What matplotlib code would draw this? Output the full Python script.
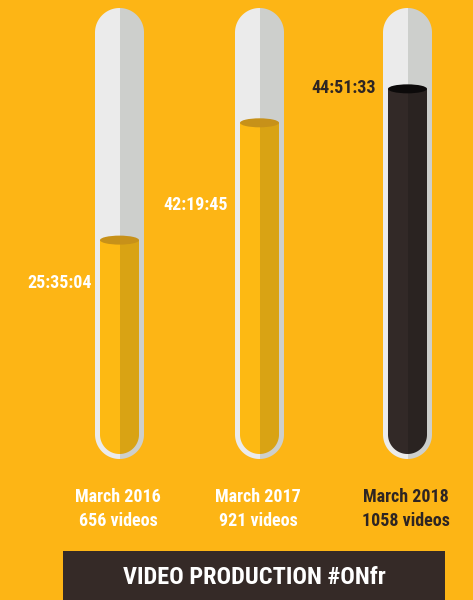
import numpy as np
import matplotlib
matplotlib.use("Agg")
import matplotlib.pyplot as plt
from matplotlib.patches import Polygon, Rectangle, Ellipse

# ---- data ----
periods = ["March 2016", "March 2017", "March 2018"]
videos = [656, 921, 1058]
durations = ["25:35:04", "42:19:45", "44:51:33"]
fill_level = [0.485, 0.751, 0.828]   # share of tube filled
title = "VIDEO PRODUCTION #ONfr"

# ---- style ----
BG = "#FDB515"
GLASS_L = "#EBEBEB"
GLASS_R = "#CDCFCC"
LIQ_L = ["#FDB913", "#FDB913", "#322927"]
LIQ_R = ["#D9A314", "#D9A314", "#2A2321"]
LIQ_TOP = ["#C79119", "#C79119", "#0C0A0A"]
TXT = ["white", "white", "#2E2523"]
DARK = "#352A27"
FP = dict(family=["Roboto Condensed", "DejaVu Sans"], weight="bold", stretch="condensed")

fig = plt.figure(figsize=(4.73, 6.0), dpi=100, facecolor=BG)
ax = fig.add_axes([0, 0, 1, 1])
ax.set_xlim(0, 473)
ax.set_ylim(600, 0)
ax.set_aspect("equal")
ax.axis("off")
ax.set_facecolor(BG)

centers = [119.5, 259.5, 407.5]
r_out = 24.5
border = 5
top, bottom = 8, 459
inner_top, inner_bottom = top + border, bottom - border
r_in = r_out - border


def capsule(cx, y0, y1, r):
    t1 = np.linspace(np.pi, 2 * np.pi, 60)
    t2 = np.linspace(0, np.pi, 60)
    xs = np.concatenate([cx + r * np.cos(t1), cx + r * np.cos(t2)])
    ys = np.concatenate([y0 + r + r * np.sin(t1), y1 - r + r * np.sin(t2)])
    p = Polygon(np.column_stack([xs, ys]), closed=True, transform=ax.transData,
                facecolor="none", edgecolor="none")
    return p


label_dy = [43, 82, -1]
label_gap = [3, 7, 7]
for i, cx in enumerate(centers):
    # glass
    outer = capsule(cx, top, bottom, r_out)
    ax.add_patch(outer)
    for x0, col in ((cx - r_out - 1, GLASS_L), (cx, GLASS_R)):
        rect = Rectangle((x0, top - 1), r_out + 1, bottom - top + 2,
                         facecolor=col, edgecolor="none", zorder=2)
        ax.add_patch(rect)
        rect.set_clip_path(outer)
    # liquid
    inner = capsule(cx, inner_top, inner_bottom, r_in)
    ax.add_patch(inner)
    y_fill = inner_bottom - fill_level[i] * (inner_bottom - inner_top)
    for x0, col in ((cx - r_in - 1, LIQ_L[i]), (cx, LIQ_R[i])):
        rect = Rectangle((x0, y_fill), r_in + 1, inner_bottom - y_fill + 1,
                         facecolor=col, edgecolor="none", zorder=3)
        ax.add_patch(rect)
        rect.set_clip_path(inner)
    ax.add_patch(Ellipse((cx, y_fill), 2 * r_in, 9, facecolor=LIQ_TOP[i],
                         edgecolor="none", zorder=4))
    # duration label
    ax.text(cx - r_out - label_gap[i], y_fill + label_dy[i], durations[i], ha="right",
            va="center", color=TXT[i], fontsize=13, zorder=5, **FP)
    # bottom labels
    ax.text(cx - 1.5, 497, periods[i], ha="center", va="center", color=TXT[i],
            fontsize=13, **FP)
    ax.text(cx - 1.5, 521, f"{videos[i]} videos", ha="center", va="center",
            color=TXT[i], fontsize=13, **FP)

# banner
ax.add_patch(Rectangle((63, 551), 382, 50, facecolor=DARK, edgecolor="none"))
ax.text(254, 578, title, ha="center", va="center", color="white",
        fontsize=17.5, **FP)

fig.savefig("out.png", dpi=100, facecolor=BG)
